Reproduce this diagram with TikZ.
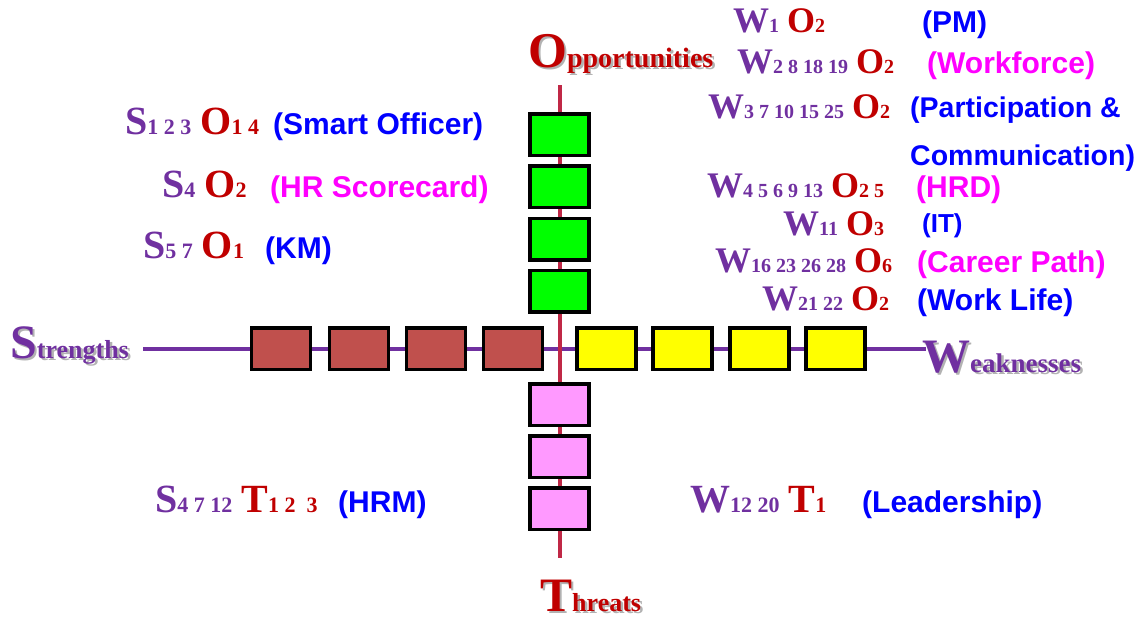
\documentclass[tikz,border=0pt]{standalone}
\usepackage{fontspec}
\setmainfont{Liberation Serif}
\newfontfamily\labfont{Liberation Sans}
\definecolor{swpurple}{RGB}{112,48,160}
\definecolor{otred}{RGB}{192,0,0}
\definecolor{axisred}{RGB}{192,40,70}
\definecolor{boxred}{RGB}{192,80,77}
\definecolor{boxyellow}{RGB}{255,255,0}
\definecolor{boxgreen}{RGB}{0,255,0}
\definecolor{boxpink}{RGB}{255,153,255}
\definecolor{labblue}{RGB}{0,0,255}
\definecolor{labmag}{RGB}{255,0,255}
% big code letter and its small index numbers; sizes can be set per node
\def\bigsz{36}\def\smallsz{20}\def\codegap{8pt}
\newcommand\BigL[1]{{\fontsize{\bigsz}{\bigsz}\selectfont #1}}
\newcommand\SmallN[1]{{\fontsize{\smallsz}{\smallsz}\selectfont #1}}
\newcommand\CodeA[2]{{\color{swpurple}\BigL{#1}\SmallN{#2}}}
\newcommand\CodeB[2]{\hspace{\codegap}{\color{otred}\BigL{#1}\SmallN{#2}}}
\begin{document}
\begin{tikzpicture}[x=1pt,y=-1pt,
  box/.style={draw=black, line width=3.5pt, minimum width=59pt, minimum height=41.5pt, inner sep=0pt},
  code/.style={anchor=base west, inner sep=0pt, font=\bfseries},
  bigcode/.style={code, font={\bfseries\def\bigsz{40}\def\smallsz{22}\def\codegap{9pt}}},
  lab/.style={anchor=base west, inner sep=0pt, font=\labfont\bfseries\fontsize{30}{48}\selectfont},
  title/.style={anchor=base west, inner sep=0pt, font=\bfseries},
  shade/.style={title, text=black, opacity=0.3},
  axis/.style={line width=4pt}]
\useasboundingbox (0,0) rectangle (1142,622);

% axes
\coordinate (vtop) at (560,85);
\coordinate (vbot) at (560,558);
\coordinate (hleft) at (143,348.5);
\coordinate (hright) at (926,348.5);
\draw[axis, swpurple] (hleft) -- (hright);
\draw[axis, axisred] (vtop) -- (vbot);

% boxes along the axes
\foreach \i/\y in {1/134.5, 2/186.8, 3/239.1, 4/291.4}
  \node[box, fill=boxgreen] (g\i) at (559.5,\y) {};
\foreach \i/\y in {1/404.5, 2/456.5, 3/508.5}
  \node[box, fill=boxpink] (p\i) at (559.5,\y) {};
\foreach \i/\x in {1/281, 2/359, 3/436, 4/513}
  \node[box, fill=boxred] (r\i) at (\x,348.5) {};
\foreach \i/\x in {1/606.5, 2/682.5, 3/759.5, 4/835.5}
  \node[box, fill=boxyellow] (y\i) at (\x,348.5) {};

% axis titles with drop shadow
\node[shade] (opps) at (530.5,69.5) {{\fontsize{50}{50}\selectfont O}{\fontsize{28}{28}\selectfont pportunities}};
\node[title, text=otred] (opp) at (528,67) {{\fontsize{50}{50}\selectfont O}{\fontsize{28}{28}\selectfont pportunities}};
\node[shade] (strs) at (12.5,360.5) {{\fontsize{48}{48}\selectfont S}{\fontsize{26}{26}\selectfont trengths}};
\node[title, text=swpurple] (str) at (10,358) {{\fontsize{48}{48}\selectfont S}{\fontsize{26}{26}\selectfont trengths}};
\node[shade] (weas) at (924.5,374.5) {{\fontsize{48}{48}\selectfont W}{\fontsize{27}{27}\selectfont eaknesses}};
\node[title, text=swpurple] (wea) at (922,372) {{\fontsize{48}{48}\selectfont W}{\fontsize{27}{27}\selectfont eaknesses}};
\node[shade] (thrs) at (542.5,613.5) {{\fontsize{48}{48}\selectfont T}{\fontsize{26}{26}\selectfont hreats}};
\node[title, text=otred] (thr) at (540,611) {{\fontsize{48}{48}\selectfont T}{\fontsize{26}{26}\selectfont hreats}};

% strength / opportunity strategies
\node[bigcode] (so1) at (125,134) {\CodeA{S}{1 2 3}\CodeB{O}{1 4}};
\node[lab, text=labblue] (so1l) at (273,134) {(Smart Officer)};
\node[bigcode] (so2) at (162,197) {\CodeA{S}{4}\CodeB{O}{2}};
\node[lab, text=labmag] (so2l) at (270,197) {(HR Scorecard)};
\node[bigcode] (so3) at (143,258) {\CodeA{S}{5 7}\CodeB{O}{1}};
\node[lab, text=labblue] (so3l) at (265,258) {(KM)};

% weakness / opportunity strategies
\node[code] (wo1) at (733,32) {\CodeA{W}{1}\CodeB{O}{2}};
\node[lab, text=labblue] (wo1l) at (922,32) {(PM)};
\node[code] (wo2) at (737,73) {\CodeA{W}{2 8 18 19}\CodeB{O}{2}};
\node[lab, text=labmag] (wo2l) at (927,73) {(Workforce)};
\node[code] (wo3) at (708,118) {\CodeA{W}{3 7 10 15 25}\CodeB{O}{2}};
\node[lab, text=labblue, align=left, font=\labfont\bfseries\fontsize{28.5}{48}\selectfont] (wo3l) at (910,165) {(Participation \&\\Communication)};
\node[code] (wo4) at (707,197) {\CodeA{W}{4 5 6 9 13}\CodeB{O}{2 5}};
\node[lab, text=labmag] (wo4l) at (916,197) {(HRD)};
\node[code] (wo5) at (783,235) {\CodeA{W}{11}\CodeB{O}{3}};
\node[lab, text=labblue, font=\labfont\bfseries\fontsize{26}{30}\selectfont] (wo5l) at (922,232) {(IT)};
\node[code] (wo6) at (715,272) {\CodeA{W}{16 23 26 28}\CodeB{O}{6}};
\node[lab, text=labmag] (wo6l) at (917,272) {(Career Path)};
\node[code] (wo7) at (762,310) {\CodeA{W}{21 22}\CodeB{O}{2}};
\node[lab, text=labblue] (wo7l) at (917,310) {(Work Life)};

% threat strategies
\node[bigcode] (st1) at (155,512) {\CodeA{S}{4 7 12}\CodeB{T}{1 2\ \ 3}};
\node[lab, text=labblue] (st1l) at (338,512) {(HRM)};
\node[bigcode] (wt1) at (690,512) {\CodeA{W}{12 20}\CodeB{T}{1}};
\node[lab, text=labblue] (wt1l) at (862,512) {(Leadership)};
\end{tikzpicture}
\end{document}
